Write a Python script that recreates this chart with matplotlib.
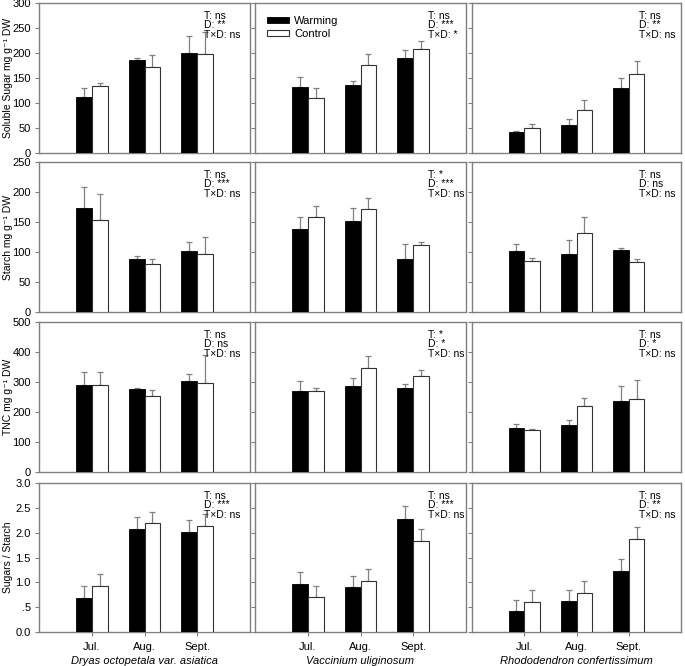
import matplotlib
matplotlib.use("Agg")
import matplotlib.pyplot as plt
import numpy as np

plt.rcParams['font.family'] = ['Liberation Sans', 'DejaVu Sans']

months = ["Jul.", "Aug.", "Sept."]
species = ["Dryas octopetala var. asiatica", "Vaccinium uliginosum", "Rhododendron confertissimum"]
ylabels = ["Soluble Sugar mg g\u207b\u00b9 DW", "Starch mg g\u207b\u00b9 DW", "TNC mg g\u207b\u00b9 DW", "Sugars / Starch"]

# Soluble sugar
sugar_w = [[113, 186, 201], [133, 136, 191], [42, 56, 130]]
sugar_w_err = [[18, 4, 34], [20, 9, 16], [3, 13, 20]]
sugar_c = [[135, 173, 199], [110, 176, 209], [51, 86, 158]]
sugar_c_err = [[5, 23, 43], [21, 23, 16], [8, 20, 26]]
# Starch
starch_w = [[174, 89, 102], [138, 151, 88], [101, 97, 104]]
starch_w_err = [[35, 5, 14], [21, 23, 26], [12, 23, 3]]
starch_c = [[154, 80, 96], [159, 171, 112], [85, 131, 84]]
starch_c_err = [[42, 9, 29], [17, 19, 4], [5, 28, 5]]
# TNC
tnc_w = [[290, 278, 304], [271, 287, 280], [147, 156, 238]]
tnc_w_err = [[44, 2, 22], [31, 27, 12], [12, 18, 50]]
tnc_c = [[290, 254, 296], [271, 348, 321], [139, 219, 244]]
tnc_c_err = [[44, 20, 95], [8, 38, 20], [5, 29, 64]]
# Sugars / Starch
ratio_w = [[0.68, 2.08, 2.02], [0.97, 0.90, 2.28], [0.42, 0.62, 1.23]]
ratio_w_err = [[0.24, 0.24, 0.23], [0.24, 0.23, 0.25], [0.23, 0.23, 0.24]]
ratio_c = [[0.93, 2.19, 2.14], [0.70, 1.03, 1.84], [0.60, 0.79, 1.87]]
ratio_c_err = [[0.24, 0.22, 0.23], [0.23, 0.24, 0.23], [0.24, 0.24, 0.25]]

stats = [
    [["ns", "**", "ns"], ["ns", "***", "*"], ["ns", "**", "ns"]],
    [["ns", "***", "ns"], ["*", "***", "ns"], ["ns", "ns", "ns"]],
    [["ns", "ns", "ns"], ["*", "*", "ns"], ["ns", "*", "ns"]],
    [["ns", "***", "ns"], ["ns", "***", "ns"], ["ns", "**", "ns"]],
]

rows = [
    (sugar_w, sugar_w_err, sugar_c, sugar_c_err, 300, np.arange(0, 301, 50), [str(v) for v in range(0, 301, 50)]),
    (starch_w, starch_w_err, starch_c, starch_c_err, 250, np.arange(0, 251, 50), [str(v) for v in range(0, 251, 50)]),
    (tnc_w, tnc_w_err, tnc_c, tnc_c_err, 500, np.arange(0, 501, 100), [str(v) for v in range(0, 501, 100)]),
    (ratio_w, ratio_w_err, ratio_c, ratio_c_err, 3.0, np.arange(0, 3.01, 0.5), ["0.0", ".5", "1.0", "1.5", "2.0", "2.5", "3.0"]),
]

W, H = 685, 666
fig = plt.figure(figsize=(W / 100, H / 100), dpi=100)

col_px = [(39, 211), (255, 211), (472, 209)]
row_px = [(3, 153), (162, 312), (322, 472), (483, 632)]
ann_x = [0.78, 0.82, 0.80]
spine_c = "#7f7f7f"
x = np.arange(1, 4)
bw = 0.3

for r, (vw, ew, vc, ec, ymax, yt, ytl) in enumerate(rows):
    for c in range(3):
        x0, w = col_px[c]
        yt0, yb0 = row_px[r]
        ax = fig.add_axes([x0 / W, 1 - yb0 / H, w / W, (yb0 - yt0) / H])
        bw_ = ax.bar(x - bw / 2, vw[c], bw, color="black", edgecolor="black", linewidth=0.6, zorder=3, label="Warming")
        bc_ = ax.bar(x + bw / 2, vc[c], bw, color="white", edgecolor="#333333", linewidth=0.8, zorder=3, label="Control")
        ax.errorbar(x - bw / 2, vw[c], yerr=[np.zeros(3), ew[c]], fmt="none", ecolor="#808080",
                    elinewidth=0.9, capsize=2.5, capthick=0.9, zorder=2)
        ax.errorbar(x + bw / 2, vc[c], yerr=[np.zeros(3), ec[c]], fmt="none", ecolor="#808080",
                    elinewidth=0.9, capsize=2.5, capthick=0.9, zorder=2)
        ax.set_xlim(0, 4)
        ax.set_ylim(0, ymax)
        ax.set_yticks(yt)
        for s in ax.spines.values():
            s.set_color(spine_c)
            s.set_linewidth(1.0)
        ax.tick_params(axis="both", direction="out", length=3, width=0.8, color=spine_c,
                       labelsize=8, pad=3)
        if c == 0:
            ax.set_yticklabels(ytl)
            ax.set_ylabel(ylabels[r], fontsize=7.5)
            ax.yaxis.set_label_coords(-0.125, 0.5)
        else:
            ax.set_yticklabels([])
        if r == 3:
            ax.set_xticks(x)
            ax.set_xticklabels(months, fontsize=8)
            ax.tick_params(axis="x", pad=4)
            ax.set_xlabel(species[c], fontsize=8, style="italic", labelpad=3)
        else:
            ax.set_xticks([])
        st = stats[r][c]
        ax.text(ann_x[c], 0.945, "T: %s\nD: %s\nT\u00d7D: %s" % (st[0], st[1], st[2]),
                transform=ax.transAxes, ha="left", va="top", fontsize=7.5, linespacing=0.9)
        if r == 0 and c == 1:
            ax.legend(handles=[bw_, bc_], loc="upper left", frameon=False, fontsize=8,
                      handlelength=2.0, handleheight=0.45, borderaxespad=0.0, borderpad=0.0,
                      bbox_to_anchor=(0.055, 0.915), labelspacing=0.25, handletextpad=0.5)

fig.savefig("out.png", dpi=100)
